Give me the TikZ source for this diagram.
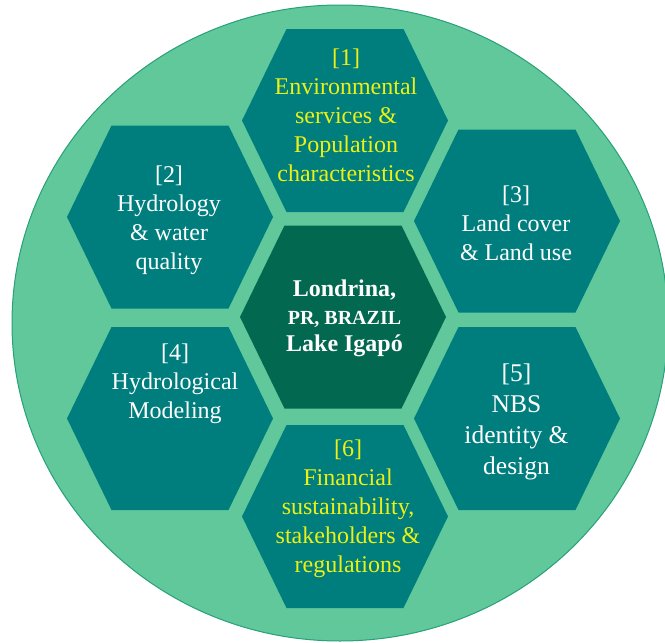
\documentclass[tikz,border=0pt]{standalone}
\usepackage{fontspec}
\setmainfont{LiberationSerif}[Extension=.ttf, UprightFont=*-Regular, BoldFont=*-Bold, ItalicFont=*-Italic, BoldItalicFont=*-BoldItalic]
\definecolor{bgreen}{RGB}{96,200,155}
\definecolor{rim}{RGB}{40,160,120}
\definecolor{hexteal}{RGB}{0,126,126}
\definecolor{hexdark}{RGB}{2,104,80}
\definecolor{ylw}{RGB}{236,240,20}
\newcommand\myhex[3]{\fill[#3] (#1-58.5,#2-91.5) -- (#1+58.5,#2-91.5) -- (#1+103,#2) -- (#1+58.5,#2+91.5) -- (#1-58.5,#2+91.5) -- (#1-103,#2) -- cycle;}
\tikzset{
  lbl/.style={align=center, inner sep=0pt, font=\rmfamily\fontsize{24}{29}\selectfont, text=white},
  ylbl/.style={lbl, text=ylw},
}
\begin{document}
\begin{tikzpicture}[x=1pt,y=-1pt]
\useasboundingbox (0,0) rectangle (665,643);
\fill[bgreen,draw=rim,line width=1pt] (340,323) ellipse [x radius=328pt, y radius=318pt];
\myhex{345}{120.5}{hexteal}
\myhex{170}{217}{hexteal}
\myhex{517}{221}{hexteal}
\myhex{343}{317}{hexdark}
\myhex{170}{418.5}{hexteal}
\myhex{517}{418.5}{hexteal}
\myhex{345}{516.5}{hexteal}
\node[ylbl] (h1) at (346,115) {[1]\\Environmental\\services \&\\Population\\characteristics};
\node[lbl] (h2) at (169,220.5) {[2]\\Hydrology\\\& water\\quality};
\node[lbl] (h3) at (516,223) {[3]\\Land cover\\\& Land use};
\node[lbl] (h4) at (175,383.5) {[4]\\Hydrological\\Modeling};
\node[lbl, font=\rmfamily\fontsize{25.5}{31}\selectfont] (h5) at (516.5,421.5) {[5]\\NBS\\identity \&\\design};
\node[ylbl] (h6) at (348,508.5) {[6]\\Financial\\sustainability,\\stakeholders \&\\regulations};
\node[lbl, font=\rmfamily\fontsize{24}{27.5}\selectfont\bfseries] (c) at (344.5,318.5) {Londrina,\\{\fontsize{20}{24}\selectfont PR, BRAZIL}\\Lake Igapó};
\end{tikzpicture}
\end{document}
